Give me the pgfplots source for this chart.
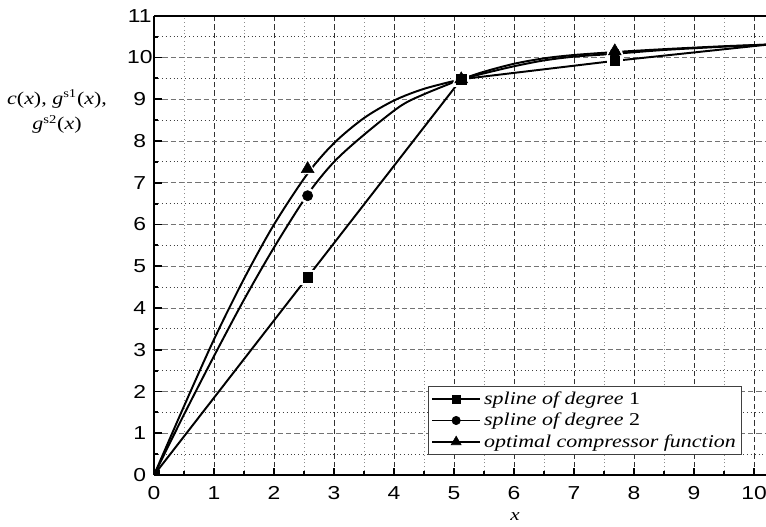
\documentclass[border=0pt]{standalone}
\usepackage{fontspec}
\setmainfont{Liberation Serif}[FakeStretch=1.22]
\newfontfamily\arialf{Liberation Sans}[FakeStretch=1.22]
\usepackage{pgfplots}
\pgfplotsset{compat=1.18}
\begin{document}
\begin{tikzpicture}
\begin{axis}[
  scale only axis, width=408pt, height=306.2pt,
  xmin=0, xmax=10.2, ymin=0, ymax=11,
  xtick={0,1,...,10}, ytick={0,1,...,11}, minor tick num=1,
  axis x line*=box, axis y line*=left,
  xtick pos=bottom, ytick pos=left,
  tick align=inside, major tick length=5pt, minor tick length=2.7pt,
  every tick/.style={black, line width=1.2pt},
  axis line style={line width=1.3pt, black},
  grid=both,
  major x grid style={black!80, line width=0.65pt, dash pattern=on 3.5pt off 2pt},
  major y grid style={black!55, line width=0.65pt, dash pattern=on 3.5pt off 2pt},
  minor x grid style={black!45, line width=0.6pt, dotted},
  minor y grid style={black!75, line width=0.6pt, dotted},
  /pgf/number format/assume math mode=true,
  ticklabel style={font=\arialf\fontsize{12.5}{14}\selectfont},
  xticklabel style={anchor=center, yshift=-12pt},
  yticklabel style={anchor=center, xshift=-9.5pt},
  xlabel={\textit{x}},
  xlabel style={at={(axis description cs:0.59,0)}, anchor=center, yshift=-28pt, font=\fontsize{11.5}{13}\selectfont},
  ylabel={\textit{c}(\textit{x}), \textit{g}\textsuperscript{s1}(\textit{x}),\\\textit{g}\textsuperscript{s2}(\textit{x})},
  ylabel style={rotate=-90, at={(axis description cs:-0.1585,0.7915)}, anchor=center, align=center, font=\fontsize{12}{17}\selectfont},
  clip marker paths=true,
  legend cell align=left,
  legend style={at={(0.96,0.0435)}, anchor=south east, draw=black!75, line width=0.6pt,
    font=\fontsize{12}{14}\selectfont, row sep=0.3pt, inner sep=1.5pt},
  legend image code/.code={\draw[#1, mark repeat=2, mark phase=2] plot coordinates {(0pt,0pt) (16pt,0pt) (32pt,0pt)};},
]
\coordinate (bl) at (rel axis cs:0,0);
\coordinate (tr) at (rel axis cs:1,1);
% spline of degree 1
\addplot[black, line width=1.3pt, forget plot] coordinates {(0,0) (2.56,4.74) (5.12,9.48) (7.68,9.92) (10.24,10.31)};
% spline of degree 2
\addplot[black, line width=1.3pt, smooth, forget plot] coordinates {(0,0) (0.5,1.45) (1.0,2.85) (1.5,4.2) (2.0,5.45) (2.56,6.72) (3.0,7.5) (3.5,8.15) (4.1,8.83) (4.5,9.12) (5.12,9.48)};
\addplot[black, line width=1.3pt, smooth, forget plot] coordinates {(5.12,9.48) (5.5,9.62) (6.0,9.79) (6.5,9.93) (7.0,10.02) (7.68,10.09) (8.5,10.18) (9.5,10.26) (10.24,10.31)};
% optimal compressor
\addplot[black, line width=1.3pt, smooth, forget plot] coordinates {(0,0) (0.5,1.65) (1.0,3.25) (1.5,4.7) (2.0,6.0) (2.56,7.22) (3.0,7.95) (3.5,8.55) (4.0,8.97) (4.5,9.25) (5.12,9.48)};
\addplot[black, line width=1.3pt, smooth, forget plot] coordinates {(5.12,9.48) (5.5,9.66) (6.0,9.85) (6.5,9.98) (7.0,10.06) (7.68,10.13) (8.5,10.2) (9.5,10.27) (10.24,10.31)};
% halos
\addplot[only marks, mark=square*, mark size=4.8pt, white, forget plot] coordinates {(2.56,4.74) (5.12,9.48) (7.68,9.92)};
\addplot[only marks, mark=*, mark size=5pt, white, forget plot] coordinates {(2.56,6.69) (5.12,9.48) (7.68,10.1)};
\addplot[only marks, mark=triangle*, mark size=6.6pt, white, forget plot] coordinates {(2.56,7.33) (5.12,9.48) (7.68,10.15)};
% markers
\addplot[only marks, mark=square*, mark size=3.2pt, black, mark options={line width=0.4pt}, forget plot] coordinates {(0,0) (2.56,4.74) (5.12,9.48) (7.68,9.92)};
\addplot[only marks, mark=*, mark size=3.4pt, black, mark options={line width=0.4pt}, forget plot] coordinates {(0,0) (2.56,6.69) (5.12,9.48) (7.68,10.1)};
\addplot[only marks, mark=triangle*, mark size=4.9pt, black, mark options={line width=0.4pt}, forget plot] coordinates {(0,0) (2.56,7.33) (5.12,9.48) (7.68,10.15)};
% legend
\addlegendimage{black, line width=1.3pt, mark=square*, mark size=2.6pt, mark options={line width=0.4pt}}
\addlegendentry{\textit{spline of degree} 1}
\addlegendimage{black, line width=1.3pt, mark=*, mark size=2.8pt, mark options={line width=0.4pt}}
\addlegendentry{\textit{spline of degree} 2}
\addlegendimage{black, line width=1.3pt, mark=triangle*, mark size=3.8pt, mark options={line width=0.4pt}}
\addlegendentry{\textit{optimal compressor function}}
\end{axis}
\pgfresetboundingbox
\path ([xshift=-102.7pt,yshift=-34pt]bl) rectangle ([yshift=10.5pt]tr);
\end{tikzpicture}
\end{document}
